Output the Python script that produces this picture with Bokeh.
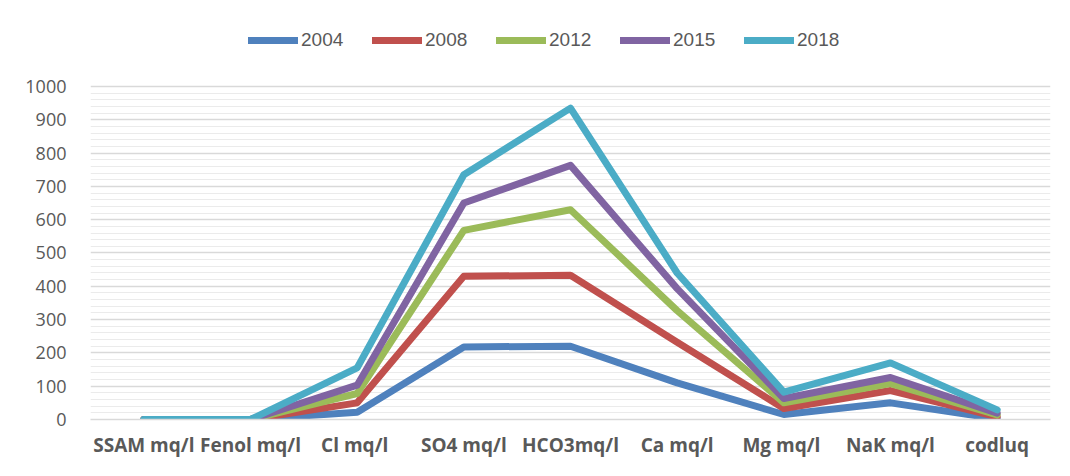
from bokeh.plotting import figure
from bokeh.models import FactorRange, Range1d, FixedTicker, Legend, LegendItem
from bokeh.embed import file_html
from bokeh.resources import INLINE

categories = ["SSAM mq/l", "Fenol mq/l", "Cl  mq/l", "SO4 mq/l", "HCO3mq/l",
              "Ca mq/l", "Mg  mq/l", "NaK mq/l", "codluq"]
years = ["2004", "2008", "2012", "2015", "2018"]
v2004 = [0, 0, 22, 218, 220, 110, 15, 50, 2]
v2008 = [0, 0, 50, 430, 433, 232, 33, 87, 8]
v2012 = [0, 0, 78, 568, 630, 327, 50, 108, 14]
v2015 = [0, 0, 103, 650, 763, 393, 63, 126, 19]
v2018 = [0, 0, 155, 735, 935, 440, 82, 170, 29]
series = [v2004, v2008, v2012, v2015, v2018]
colors = ["#4F81BD", "#C0504D", "#9BBB59", "#8064A2", "#4BACC6"]
y_ticks = [0, 100, 200, 300, 400, 500, 600, 700, 800, 900, 1000]
y_minor = [v for v in range(0, 1001, 20) if v % 100 != 0]

p = figure(width=1054, height=460, output_backend="svg", toolbar_location=None,
           x_range=FactorRange(*categories, range_padding=0),
           y_range=Range1d(0, 1234.2),
           min_border_left=90, min_border_right=4, min_border_top=8,
           min_border_bottom=41)
p.outline_line_color = None
p.background_fill_color = "white"
p.border_fill_color = "white"

items = []
for yr, vals, c in zip(years, series, colors):
    r = p.line(categories, vals, line_color=c, line_width=7,
               line_cap="round", line_join="round")
    items.append(LegendItem(label=yr, renderers=[r]))

legend = Legend(items=items, orientation="horizontal", location=(158, 368))
legend.glyph_width = 50
legend.glyph_height = 20
legend.label_height = 20
legend.label_width = 47
legend.label_standoff = 3
legend.spacing = 24
legend.padding = 0
legend.margin = 0
legend.border_line_color = None
legend.background_fill_alpha = 0
legend.label_text_font = "Liberation Sans"
legend.label_text_font_size = "19px"
legend.label_text_color = "#595959"
p.add_layout(legend, "center")

p.yaxis.ticker = FixedTicker(ticks=y_ticks, minor_ticks=y_minor)
p.yaxis.axis_line_color = None
p.yaxis.major_tick_line_color = None
p.yaxis.minor_tick_line_color = None
p.yaxis.major_label_standoff = 18
p.yaxis.major_label_text_font = "Open Sans"
p.yaxis.major_label_text_font_size = "18px"
p.yaxis.major_label_text_color = "#595959"

p.xaxis.axis_line_color = "#d9d9d9"
p.xaxis.axis_line_width = 1.5
p.xaxis.major_tick_line_color = None
p.xaxis.minor_tick_line_color = None
p.xaxis.major_label_standoff = 6
p.xaxis.major_label_text_font = "Open Sans"
p.xaxis.major_label_text_font_style = "bold"
p.xaxis.major_label_text_font_size = "19px"
p.xaxis.major_label_text_color = "#595959"

p.xgrid.grid_line_color = None
p.ygrid.grid_line_color = "#d9d9d9"
p.ygrid.grid_line_width = 1.5
p.ygrid.minor_grid_line_color = "#ebebeb"
p.ygrid.minor_grid_line_width = 1

open("out.html", "w").write(file_html(p, INLINE))
